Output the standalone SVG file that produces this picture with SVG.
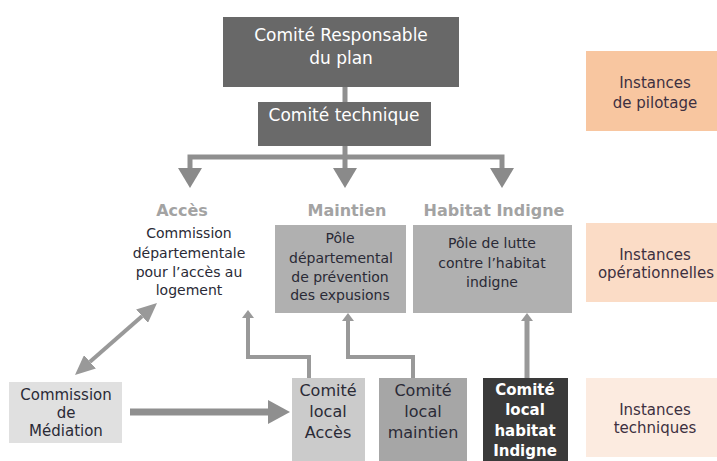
<svg xmlns="http://www.w3.org/2000/svg" width="717" height="461" viewBox="0 0 717 461">
<style>
text{font-family:"DejaVu Sans","Liberation Sans",sans-serif;text-anchor:middle}
.w{fill:#ffffff;font-size:17px}
.lbl{fill:#a3a3a3;font-size:16px;font-weight:bold}
.d{fill:#2a2a36;font-size:14px}
.loc{fill:#2a2a36;font-size:16px}
.med{fill:#2a2a36;font-size:15px}
.locw{fill:#ffffff;font-size:15px;font-weight:bold}
.inst{fill:#3d3040;font-size:15px}
.c{fill:none;stroke:#8f8f8f}
</style>
<defs>
<marker id="big" viewBox="0 0 20 24" refX="0" refY="12" markerWidth="20" markerHeight="24" markerUnits="userSpaceOnUse" orient="auto"><path d="M0 0 L20 12 L0 24 Z" fill="#8a8a8a"/></marker>
<marker id="med" viewBox="0 0 22 24" refX="0" refY="12" markerWidth="22" markerHeight="24" markerUnits="userSpaceOnUse" orient="auto"><path d="M0 0 L22 12 L0 24 Z" fill="#8f8f8f"/></marker>
<marker id="dbl" viewBox="0 0 20 18" refX="0" refY="9" markerWidth="20" markerHeight="18" markerUnits="userSpaceOnUse" orient="auto-start-reverse"><path d="M0 0 L20 9 L0 18 Z" fill="#999999"/></marker>
<marker id="sm" viewBox="0 0 8 12" refX="0" refY="6" markerWidth="8" markerHeight="12" markerUnits="userSpaceOnUse" orient="auto"><path d="M0 0 L8 6 L0 12 Z" fill="#999999"/></marker>
</defs>
<rect width="717" height="461" fill="#ffffff"/>

<g id="connectors">
<path class="c" d="M345 87 V102" stroke-width="5"/>
<path class="c" d="M345 146 V168" stroke-width="5" marker-end="url(#big)"/>
<path class="c" d="M345 157 H190 V168" stroke-width="5" marker-end="url(#big)"/>
<path class="c" d="M345 157 H502 V168" stroke-width="5" marker-end="url(#big)"/>
<path class="c" d="M130 412 H268" stroke-width="7" marker-end="url(#med)"/>
<path d="M90 361.8 L142 316.2" fill="none" stroke="#999999" stroke-width="4" marker-start="url(#dbl)" marker-end="url(#dbl)"/>
<path d="M309 378 V357 H248 V318" fill="none" stroke="#999999" stroke-width="4" marker-end="url(#sm)"/>
<path d="M413 378 V357 H348 V321" fill="none" stroke="#999999" stroke-width="4" marker-end="url(#sm)"/>
<path d="M527 378 V321" fill="none" stroke="#999999" stroke-width="5" marker-end="url(#sm)"/>
</g>

<g id="comite-responsable">
<rect x="223" y="17" width="236" height="70" fill="#686868"/>
<text class="w" x="341" y="41">Comité Responsable</text>
<text class="w" x="341" y="64">du plan</text>
</g>

<g id="comite-technique">
<rect x="258" y="102" width="173" height="44" fill="#6a6a6a"/>
<text class="w" x="344" y="121">Comité technique</text>
</g>

<g id="acces">
<text class="lbl" x="182" y="216">Accès</text>
<text class="d" x="189" y="238">Commission</text>
<text class="d" x="189" y="258">départementale</text>
<text class="d" x="189" y="277">pour l’accès au</text>
<text class="d" x="189" y="295">logement</text>
</g>

<g id="maintien">
<text class="lbl" x="347" y="216">Maintien</text>
<rect x="275" y="225" width="131" height="88" fill="#b0b0b0"/>
<text class="d" x="340" y="243">Pôle</text>
<text class="d" x="341" y="263">départemental</text>
<text class="d" x="340" y="282">de prévention</text>
<text class="d" x="340" y="300">des expusions</text>
</g>

<g id="habitat-indigne">
<text class="lbl" x="494" y="216">Habitat Indigne</text>
<rect x="413" y="225" width="159" height="88" fill="#b0b0b0"/>
<text class="d" x="492" y="248">Pôle de lutte</text>
<text class="d" x="492" y="268">contre l’habitat</text>
<text class="d" x="492" y="287">indigne</text>
</g>

<g id="commission-mediation">
<rect x="9" y="382" width="113" height="61" fill="#e0e0e0"/>
<text class="med" x="66" y="400">Commission</text>
<text class="med" x="66" y="418">de</text>
<text class="med" x="66" y="436">Médiation</text>
</g>

<g id="comite-local-acces">
<rect x="292" y="378" width="73" height="83" fill="#cbcbcb"/>
<text class="loc" x="328" y="396">Comité</text>
<text class="loc" x="328" y="417">local</text>
<text class="loc" x="328" y="438">Accès</text>
</g>

<g id="comite-local-maintien">
<rect x="379" y="378" width="88" height="83" fill="#a6a6a6"/>
<text class="loc" x="423" y="396">Comité</text>
<text class="loc" x="423" y="417">local</text>
<text class="loc" x="423" y="438">maintien</text>
</g>

<g id="comite-local-habitat">
<rect x="483" y="378" width="85" height="83" fill="#3a3a3a"/>
<text class="locw" x="525" y="395">Comité</text>
<text class="locw" x="525" y="415">local</text>
<text class="locw" x="525" y="436">habitat</text>
<text class="locw" x="525" y="456">Indigne</text>
</g>

<g id="instances-pilotage">
<rect x="586" y="51" width="131" height="80" fill="#f8c6a0"/>
<text class="inst" x="655" y="88">Instances</text>
<text class="inst" x="655" y="108">de pilotage</text>
</g>

<g id="instances-operationnelles">
<rect x="586" y="223" width="131" height="79" fill="#fbdcc6"/>
<text class="inst" x="655" y="260">Instances</text>
<text class="inst" x="656" y="278">opérationnelles</text>
</g>

<g id="instances-techniques">
<rect x="586" y="378" width="131" height="79" fill="#fcebe0"/>
<text class="inst" x="655" y="415">Instances</text>
<text class="inst" x="655" y="433">techniques</text>
</g>
</svg>
